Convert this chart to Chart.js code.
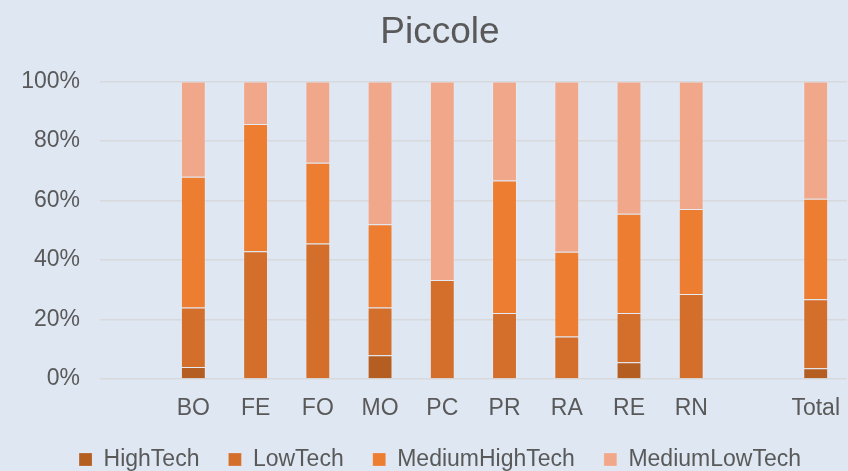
<!DOCTYPE html>
<html>
<head>
<meta charset="utf-8">
<script src="https://cdn.jsdelivr.net/npm/chart.js@4"></script>
<style>
  html, body { margin: 0; padding: 0; background: #dfe7f3; }
  #wrap { width: 848px; height: 471px; }
</style>
</head>
<body>
<div id="wrap"><canvas id="chart"></canvas></div>
<script>
// categorie (slot vuoti prima di BO e prima di Total)
const labels = ['', 'BO', 'FE', 'FO', 'MO', 'PC', 'PR', 'RA', 'RE', 'RN', '', 'Total'];

// quote in percentuale
const highTech       = [null, 4,  0,    0,    8,  0,    0,    0,    5.6,  0,    null, 3.6];
const lowTech        = [null, 20, 42.9, 45.5, 16, 33.3, 22.2, 14.3, 16.6, 28.6, null, 23.2];
const mediumHighTech = [null, 44, 42.8, 27.2, 28, 0,    44.5, 28.5, 33.3, 28.5, null, 33.8];
const mediumLowTech  = [null, 32, 14.3, 27.3, 48, 66.7, 33.3, 57.2, 44.5, 42.9, null, 39.4];

const tickValues = [0, 20, 40, 60, 80, 100];

const textColor = '#595959';
const font = 'Liberation Sans, Arial, sans-serif';

const mkSet = (label, data, color) => ({
    label, data,
    backgroundColor: color,
    borderColor: 'rgba(255,255,255,0.2)',
    borderWidth: 1,
    barPercentage: 0.4,
    categoryPercentage: 1.0
});

// titolo e legenda centrati un po' a destra come nell'originale
const shiftBoxes = {
    id: 'shiftBoxes',
    afterLayout(chart) {
        [chart.titleBlock, chart.legend].forEach(b => {
            if (b) { b.left += 16; b.right += 16; }
        });
    }
};

new Chart(document.getElementById('chart'), {
    type: 'bar',
    data: {
        labels,
        datasets: [
            mkSet('HighTech', highTech, '#b45e22'),
            mkSet('LowTech', lowTech, '#d36f2b'),
            mkSet('MediumHighTech', mediumHighTech, '#ed7d31'),
            mkSet('MediumLowTech', mediumLowTech, '#f1a88a')
        ]
    },
    plugins: [shiftBoxes],
    options: {
        responsive: true,
        maintainAspectRatio: false,
        animation: false,
        layout: { padding: { left: 0, right: 0, top: 0, bottom: -10 } },
        plugins: {
            title: {
                display: true,
                text: 'Piccole',
                color: textColor,
                font: { family: font, size: 37, weight: 'normal' },
                padding: { top: 11, bottom: 26 }
            },
            legend: {
                position: 'bottom',
                labels: {
                    color: textColor,
                    font: { family: font, size: 23 },
                    boxWidth: 13,
                    boxHeight: 13,
                    padding: 29
                }
            },
            tooltip: { enabled: false }
        },
        scales: {
            x: {
                stacked: true,
                grid: { display: false },
                border: { display: false },
                afterFit: (axis) => { axis.height = 40; },
                ticks: { color: textColor, font: { family: font, size: 23 }, padding: 8, maxRotation: 0 }
            },
            y: {
                stacked: true,
                min: 0,
                max: 100,
                afterBuildTicks: (axis) => { axis.ticks = tickValues.map(v => ({ value: v })); },
                afterFit: (axis) => { axis.width = 100; },
                grid: { color: '#d7d9dc', lineWidth: 1.5, drawTicks: false },
                border: { display: false },
                ticks: {
                    color: textColor,
                    font: { family: font, size: 23 },
                    padding: 20,
                    callback: (v) => v + '%'
                }
            }
        }
    }
});
</script>
</body>
</html>
